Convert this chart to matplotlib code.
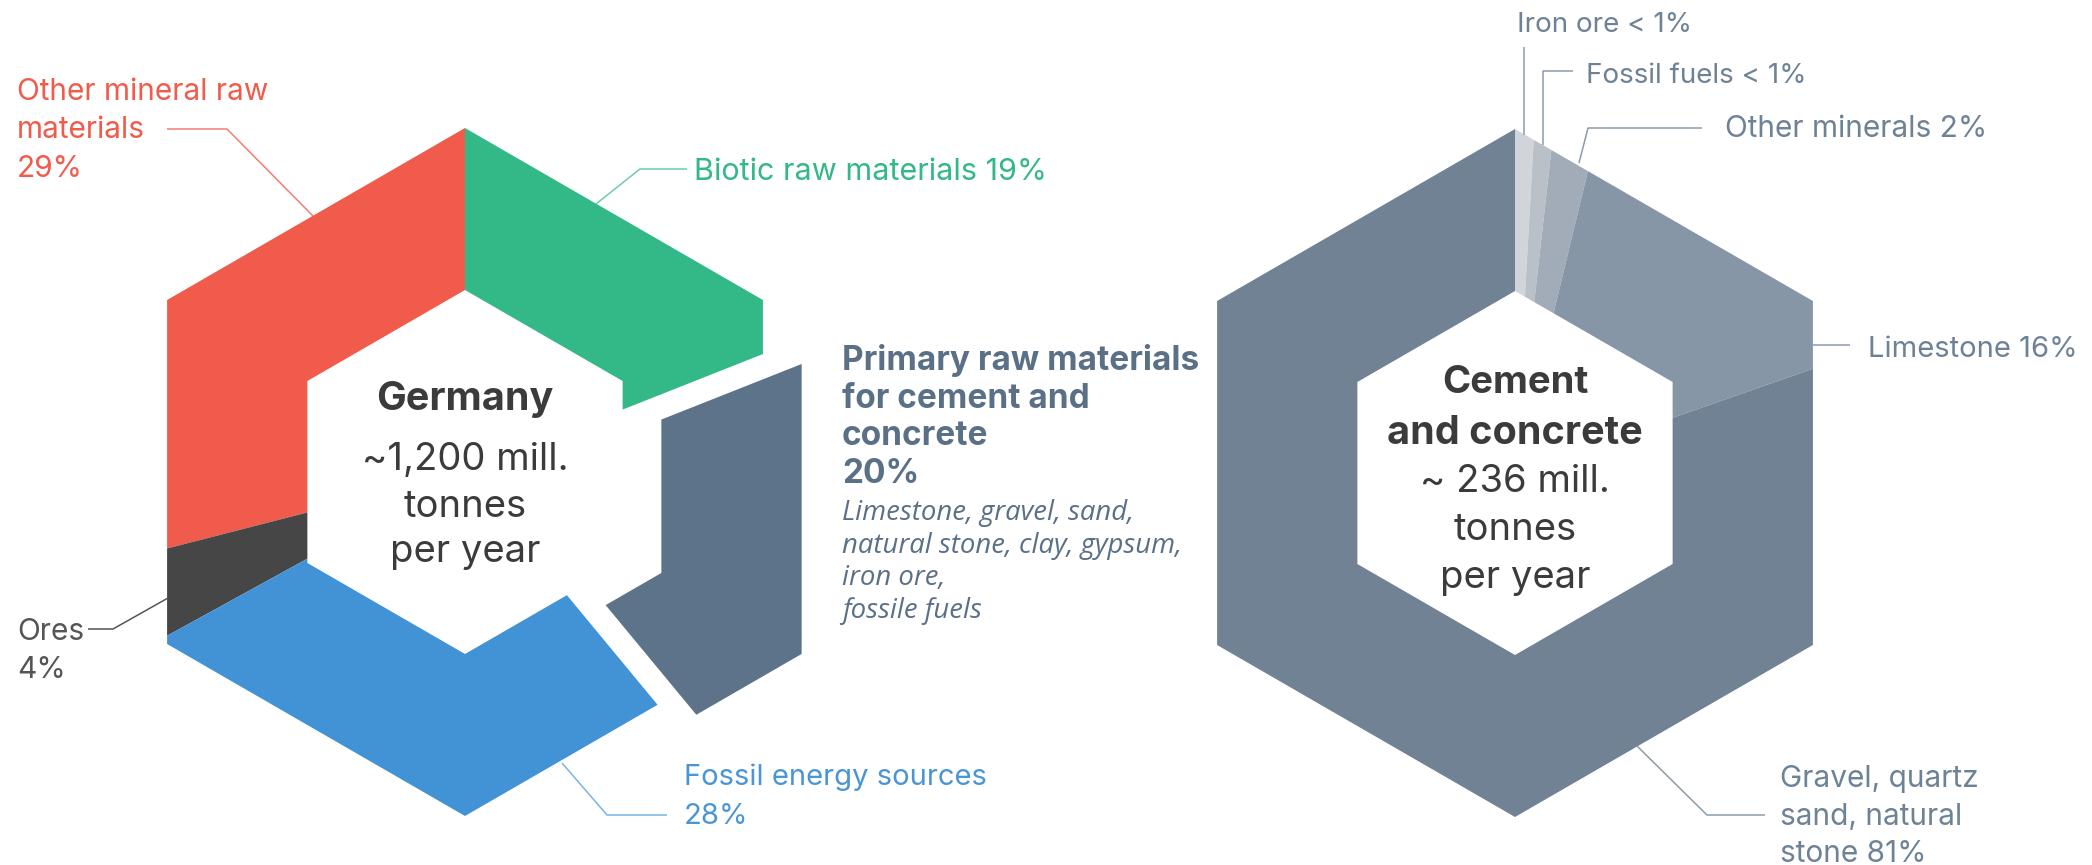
import numpy as np
import matplotlib
matplotlib.use("Agg")
import matplotlib.pyplot as plt
from matplotlib.patches import Polygon

plt.rcParams["font.family"] = ["Inter", "Lato", "DejaVu Sans"]
ITALIC_FAMILY = ["Open Sans", "Lato", "DejaVu Sans"]

# Germany: raw material extraction shares (counter-clockwise from the top)
de_labels = ["Other mineral raw materials", "Ores", "Fossil energy sources",
             "Primary raw materials for cement and concrete", "Biotic raw materials"]
de_values = [29, 4, 28, 20, 19]
de_colors = ["#F05B4B", "#464646", "#4293D5", "#5D7389", "#33B887"]
de_explode = [0, 0, 0, 1, 0]

# Cement and concrete: raw material shares (clockwise from the top)
cc_labels = ["Iron ore", "Fossil fuels", "Other minerals", "Limestone",
             "Gravel, quartz sand, natural stone"]
cc_values = [0.9, 0.9, 2, 16, 81]
cc_colors = ["#D1D5DA", "#B9C0C8", "#A1ACB8", "#8796A6", "#708294"]

W, H = 2092, 865
fig = plt.figure(figsize=(W / 100, H / 100), dpi=100)
ax = fig.add_axes([0, 0, 1, 1])
ax.set_xlim(0, W)
ax.set_ylim(H, 0)
ax.axis("off")

R_OUT, R_IN = 344, 182
C_DE = (465, 472)
C_CC = (1515, 473)
EXPLODE_DIST = 40


def hex_rho(theta, R):
    phi = ((theta + 30) % 60) - 30
    return R * np.cos(np.radians(30)) / np.cos(np.radians(phi))


def hex_point(c, theta, R):
    rho = hex_rho(theta, R)
    t = np.radians(theta)
    return (c[0] + rho * np.cos(t), c[1] - rho * np.sin(t))


def ring_wedge(c, t1, t2, R, r):
    """Polygon of a hexagonal ring segment between angles t1 < t2 (deg, CCW)."""
    k0 = int(np.ceil((t1 - 30) / 60.0))
    k1 = int(np.floor((t2 - 30) / 60.0))
    mids = [30 + 60 * k for k in range(k0, k1 + 1) if t1 < 30 + 60 * k < t2]
    angs = [t1] + mids + [t2]
    outer = [hex_point(c, a, R) for a in angs]
    inner = [hex_point(c, a, r) for a in reversed(angs)]
    return outer + inner


# Germany ring, counter-clockwise from 90 degrees
fr = np.array(de_values, float) / sum(de_values)
start = 90.0
for v, col, ex in zip(fr, de_colors, de_explode):
    t1, t2 = start, start + v * 360
    pts = np.array(ring_wedge(C_DE, t1, t2, R_OUT, R_IN))
    if ex:
        mid = np.radians((t1 + t2) / 2)
        pts[:, 0] += EXPLODE_DIST * np.cos(mid)
        pts[:, 1] -= EXPLODE_DIST * np.sin(mid)
    ax.add_patch(Polygon(pts, closed=True, facecolor=col, edgecolor="none"))
    start = t2

# Cement and concrete ring, clockwise from 90 degrees
fr = np.array(cc_values, float) / sum(cc_values)
start = 90.0
for v, col in zip(fr, cc_colors):
    t2, t1 = start, start - v * 360
    pts = ring_wedge(C_CC, t1, t2, R_OUT, R_IN)
    ax.add_patch(Polygon(pts, closed=True, facecolor=col, edgecolor="none"))
    start = t1

# Centre captions
dark = "#3B3B3B"
ax.text(C_DE[0], 410, "Germany", ha="center", va="baseline", fontsize=28.5,
        fontweight="bold", color=dark)
for y, s in zip([470, 517, 562], ["~1,200 mill.", "tonnes", "per year"]):
    ax.text(C_DE[0], y, s, ha="center", va="baseline", fontsize=27.5, color=dark)

ax.text(C_CC[0], 393, "Cement", ha="center", va="baseline", fontsize=27.5,
        fontweight="bold", color=dark)
ax.text(C_CC[0], 444, "and concrete", ha="center", va="baseline", fontsize=28.5,
        fontweight="bold", color=dark)
for y, s in zip([492, 540, 588], ["~ 236 mill.", "tonnes", "per year"]):
    ax.text(C_CC[0], y, s, ha="center", va="baseline", fontsize=27.5, color=dark)


def leader(xs, ys, color, lw=1.1):
    ax.plot(xs, ys, color=color, lw=lw, solid_capstyle="butt")


def label(x, y0, lines, color, size=21.5, dy=38.5, **kw):
    for i, s in enumerate(lines):
        ax.text(x, y0 + i * dy, s, ha="left", va="baseline", fontsize=size,
                color=color, **kw)


# Germany labels
label(17, 100, ["Other mineral raw", "materials", "29%"], "#F05B4B")
leader([167, 227, 313], [129, 129, 216], "#F47D70")

label(694, 180, ["Biotic raw materials 19%"], "#33B887", size=22)
leader([687, 640, 596], [169, 169, 204], "#6CCDA6")

label(17, 640, ["Ores", "4%"], "#555555")
leader([88, 113, 168], [629, 629, 598], "#555555")

label(684, 785, ["Fossil energy sources", "28%"], "#4A95D6", size=21)
leader([667, 607, 562], [815, 815, 763], "#7AB3E4")

slate = "#5A7087"
label(842, 370, ["Primary raw materials", "for cement and", "concrete", "20%"],
      slate, size=24, dy=37.7, fontweight="bold")
label(842, 520, ["Limestone, gravel, sand,", "natural stone, clay, gypsum,",
                 "iron ore,", "fossile fuels"], slate, size=19.8, dy=32.7,
      fontstyle="italic", family=ITALIC_FAMILY)

# Cement and concrete labels
grey = "#6E8296"
lgrey = "#8C9BAA"
label(1517, 32, ["Iron ore < 1%"], grey, size=20)
leader([1524, 1524], [47, 135], lgrey)

label(1586, 83, ["Fossil fuels < 1%"], grey, size=20)
leader([1573, 1543, 1543], [71, 71, 145], lgrey)

label(1725, 137, ["Other minerals 2%"], grey, size=21.5)
leader([1702, 1588, 1579], [128, 128, 163], lgrey)

label(1868, 357, ["Limestone 16%"], grey, size=21)
leader([1813, 1850], [345, 345], lgrey)

label(1780, 787, ["Gravel, quartz", "sand, natural", "stone 81%"], grey,
      size=21.5, dy=37.5)
leader([1765, 1707, 1637], [815, 815, 746], lgrey)

fig.savefig("out.png", dpi=100, facecolor="white")
